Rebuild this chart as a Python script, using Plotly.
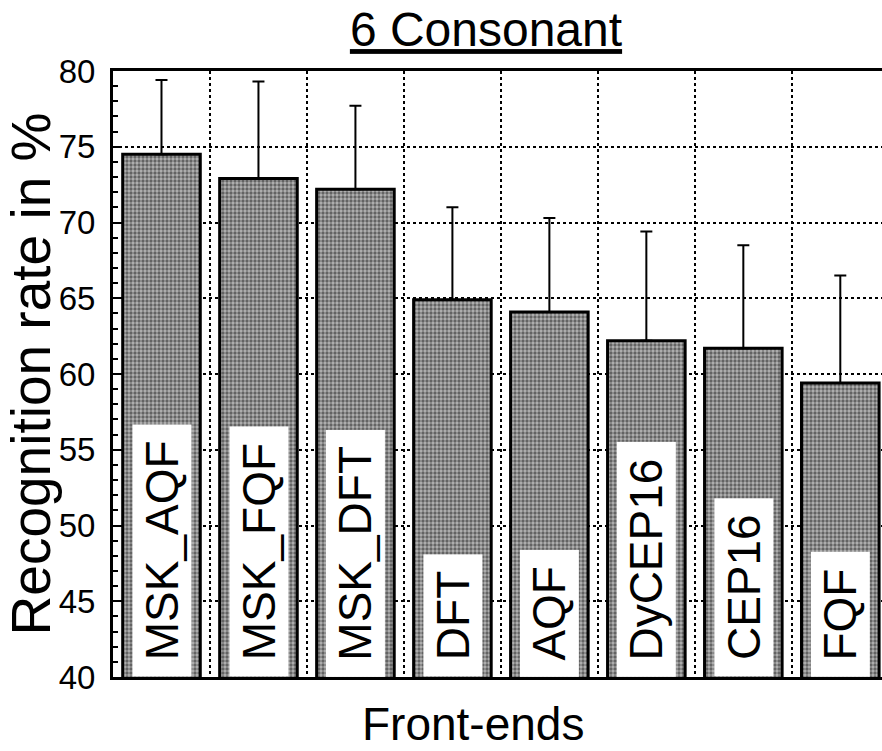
import plotly.graph_objects as go

# Front-end feature sets and their recognition rates (%)
front_ends = ["MSK_AQF", "MSK_FQF", "MSK_DFT", "DFT", "AQF", "DyCEP16", "CEP16", "FQF"]
rates = [74.5, 72.9, 72.2, 64.9, 64.1, 62.2, 61.7, 59.4]
# upper spread above each bar
spread_up = [4.9, 6.4, 5.5, 6.1, 6.2, 7.2, 6.8, 7.1]

y_ticks = [40, 45, 50, 55, 60, 65, 70, 75, 80]

FONT = "Liberation Sans, Arial, Helvetica, sans-serif"

fig = go.Figure()
fig.add_trace(go.Bar(
    x=front_ends,
    y=rates,
    base=0,
    width=0.8,
    marker=dict(
        color="#707070",
        line=dict(color="black", width=3),
        pattern=dict(shape=".", fgcolor="#111111", bgcolor="#b4b4b4", size=4, solidity=0.55),
    ),
    error_y=dict(
        type="data", symmetric=False,
        array=spread_up, arrayminus=[0] * len(spread_up),
        color="black", thickness=2, width=6,
    ),
    showlegend=False,
))

# Name of each front-end written upright inside its bar
for name in front_ends:
    fig.add_annotation(
        x=name, y=40, xref="x", yref="y",
        text="\u00a0" + name + "\u00a0",
        textangle=-90,
        xanchor="center", yanchor="bottom",
        showarrow=False,
        bgcolor="white",
        borderpad=3,
        font=dict(family=FONT, size=46, color="black"),
    )

# Axis caption below the frame
fig.add_annotation(
    text="Front-ends",
    x=(473 - 113) / 769, xref="paper", xanchor="center",
    y=-0.077, yref="paper", yanchor="middle",
    showarrow=False,
    borderpad=0,
    font=dict(family=FONT, size=46, color="black"),
)

fig.update_layout(
    width=882, height=751,
    margin=dict(l=113, r=0, t=71, b=74),
    paper_bgcolor="white",
    plot_bgcolor="white",
    bargap=0.2,
    font=dict(family=FONT, color="black"),
    title=dict(
        text="<u>6 Consonant</u>",
        font=dict(family=FONT, size=48, color="black"),
        x=486 / 882, xanchor="center", xref="container",
        y=0.961, yanchor="middle", yref="container",
    ),
    xaxis=dict(
        type="category",
        range=[-0.5, 7.43],
        tickson="boundaries",
        showticklabels=False,
        ticks="",
        showgrid=True, gridcolor="black", griddash="dot", gridwidth=2,
        showline=True, linecolor="black", linewidth=3, mirror=True,
        zeroline=False,
    ),
    yaxis=dict(
        range=[40, 80],
        tickvals=y_ticks,
        ticktext=[str(v) for v in y_ticks],
        tickfont=dict(family=FONT, size=33, color="black"),
        ticks="inside", ticklen=6, tickwidth=2, tickcolor="black",
        ticklabelstandoff=8,
        minor=dict(dtick=1, ticks="inside", ticklen=5, tickwidth=1.5, tickcolor="black", showgrid=False),
        showgrid=True, gridcolor="black", griddash="dot", gridwidth=2,
        showline=True, linecolor="black", linewidth=3, mirror=False,
        zeroline=False,
        title=dict(text="Recognition rate in %", font=dict(family=FONT, size=55, color="black"), standoff=2),
    ),
)

fig.write_html("out.html")
